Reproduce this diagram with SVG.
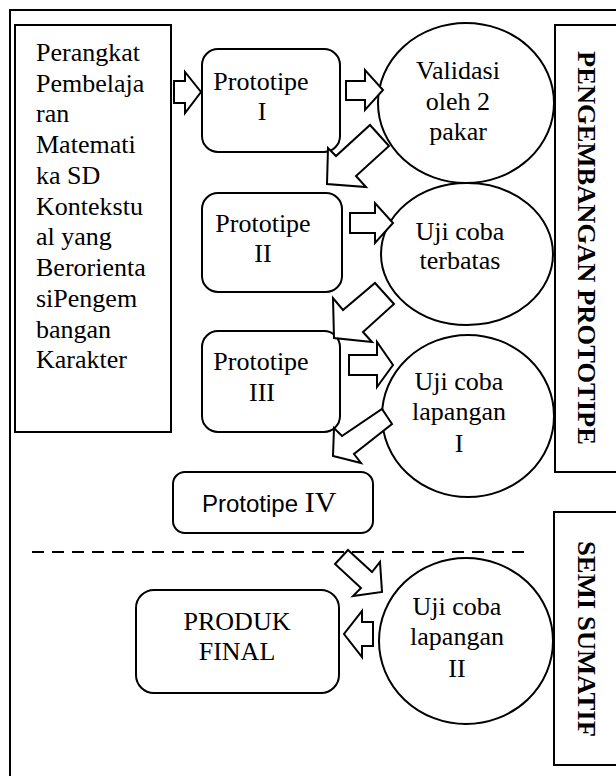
<svg xmlns="http://www.w3.org/2000/svg" width="616" height="776" viewBox="0 0 616 776">
<style>
.ln{fill:none;stroke:#000;stroke-width:2}
.bx{fill:#fff;stroke:#000;stroke-width:2}
.ar{fill:#fff;stroke:#000;stroke-width:2;stroke-linejoin:miter}
text{font-family:'Liberation Serif','Times New Roman',Times,serif;font-size:26px;fill:#000}
.c{text-anchor:middle}
.v{font-weight:bold;text-anchor:middle}
.s{font-family:'Liberation Sans',Arial,sans-serif;font-size:24px}
</style>
<rect x="0" y="0" width="616" height="776" fill="#fff"/>
<rect id="frame" x="10" y="10" width="640" height="800" class="ln" stroke-width="2.5"/>

<g id="panel-pengembangan">
<rect x="555" y="25" width="80" height="447" class="bx"/>
<text class="v" font-family="Liberation Serif, serif" transform="translate(578,248) rotate(90)" textLength="394" lengthAdjust="spacingAndGlyphs">PENGEMBANGAN PROTOTIPE</text>
</g>
<g id="panel-semi">
<rect x="554" y="512" width="80" height="253" class="bx"/>
<text class="v" font-family="Liberation Serif, serif" transform="translate(578,639) rotate(90)" textLength="196" lengthAdjust="spacingAndGlyphs">SEMI SUMATIF</text>
</g>

<g id="perangkat">
<rect x="15" y="25" width="156" height="407" class="bx"/>
<text font-family="Liberation Serif, serif">
<tspan x="36" y="61">Perangkat</tspan>
<tspan x="36" y="92">Pembelaja</tspan>
<tspan x="36" y="122">ran</tspan>
<tspan x="36" y="153">Matemati</tspan>
<tspan x="36" y="184">ka SD</tspan>
<tspan x="36" y="215">Kontekstu</tspan>
<tspan x="36" y="245">al yang</tspan>
<tspan x="36" y="276">Berorienta</tspan>
<tspan x="36" y="307">siPengem</tspan>
<tspan x="36" y="338">bangan</tspan>
<tspan x="36" y="368">Karakter</tspan>
</text>
</g>

<g id="prototipe1">
<rect x="202" y="49" width="138" height="103" rx="16" class="bx"/>
<text class="c" font-family="Liberation Serif, serif"><tspan x="261" y="90">Prototipe</tspan><tspan x="262" y="120">I</tspan></text>
</g>
<g id="prototipe2">
<rect x="202" y="193" width="140" height="99" rx="16" class="bx"/>
<text class="c" font-family="Liberation Serif, serif"><tspan x="263" y="232">Prototipe</tspan><tspan x="263" y="262">II</tspan></text>
</g>
<g id="prototipe3">
<rect x="202" y="331" width="138" height="101" rx="16" class="bx"/>
<text class="c" font-family="Liberation Serif, serif"><tspan x="261" y="370">Prototipe</tspan><tspan x="262" y="401">III</tspan></text>
</g>
<g id="prototipe4">
<rect x="173" y="472" width="200" height="61" rx="12" class="bx"/>
<text x="202" y="512"><tspan class="s" font-family="Liberation Sans, sans-serif">Prototipe </tspan><tspan font-family="Liberation Serif, serif" font-size="30">IV</tspan></text>
</g>
<g id="produk">
<rect x="136" y="590" width="203" height="103" rx="18" class="bx"/>
<text class="c" font-family="Liberation Serif, serif"><tspan x="237" y="630">PRODUK</tspan><tspan x="237" y="660">FINAL</tspan></text>
</g>

<g id="validasi">
<ellipse cx="466" cy="103" rx="88" ry="80" class="bx"/>
<text class="c" font-family="Liberation Serif, serif"><tspan x="458" y="79">Validasi</tspan><tspan x="458" y="110">oleh 2</tspan><tspan x="458" y="140">pakar</tspan></text>
</g>
<g id="ujiterbatas">
<ellipse cx="467" cy="254" rx="86" ry="71" class="bx"/>
<text class="c" font-family="Liberation Serif, serif"><tspan x="460" y="240">Uji coba</tspan><tspan x="460" y="269">terbatas</tspan></text>
</g>
<g id="ujilapangan1">
<ellipse cx="468" cy="416" rx="86" ry="81" class="bx"/>
<text class="c" font-family="Liberation Serif, serif"><tspan x="459" y="390">Uji coba</tspan><tspan x="459" y="420">lapangan</tspan><tspan x="459" y="452">I</tspan></text>
</g>
<g id="ujilapangan2">
<ellipse cx="466" cy="641" rx="87" ry="83" class="bx"/>
<text class="c" font-family="Liberation Serif, serif"><tspan x="457" y="615">Uji coba</tspan><tspan x="457" y="645">lapangan</tspan><tspan x="457" y="677">II</tspan></text>
</g>

<g id="connectors">
<line x1="32" y1="552" x2="528" y2="552" stroke="#000" stroke-width="2" stroke-dasharray="12 8"/>
<polygon class="ar" points="174,81 185,81 185,72 201,92 185,113 185,103 174,103"/>
<polygon class="ar" points="346,81 365,81 365,70 383,90 365,110 365,100 346,100"/>
<polygon class="ar" points="327,184 328,148 336,156 370,125 389,146 356,176 366,187"/>
<polygon class="ar" points="350,213 375,213 375,203 393,223 375,243 375,233 350,233"/>
<polygon class="ar" points="334,338 333,298 343,310 375,283 394,304 363,332 372,342"/>
<polygon class="ar" points="349,355 377,355 377,342 393,365 377,387 377,375 349,375"/>
<polygon class="ar" points="333,456 334,428 342,436 382,409 392,424 354,454 361,463"/>
<polygon class="ar" points="348,550 372,572 380,562 382,592 353,596 361,588 335,564"/>
<polygon class="ar" points="373,622 362,622 362,611 344,634 362,657 362,646 373,646"/>
</g>
</svg>
